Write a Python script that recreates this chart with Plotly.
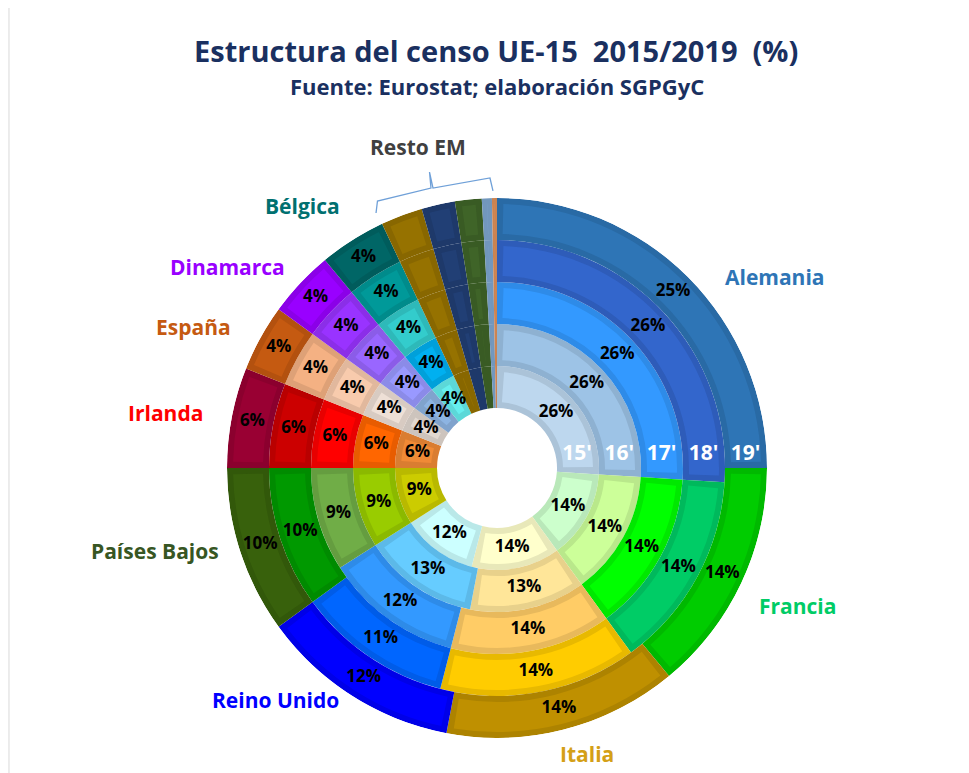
import math
import plotly.graph_objects as go

# ---------------- DATA ----------------
ring_labels = ["15'", "16'", "17'", "18'", "19'"]
countries = ["Alemania", "Francia", "Italia", "Reino Unido", "Países Bajos",
             "Irlanda", "España", "Dinamarca", "Bélgica"]
v15 = [26, 14, 14, 12, 9, 6, 4, 4, 4]
v16 = [26, 14, 13, 13, 9, 6, 4, 4, 4]
v17 = [26, 14, 14, 12, 9, 6, 4, 4, 4]
v18 = [26, 14, 14, 11, 10, 6, 4, 4, 4]
v19 = [25, 14, 14, 12, 10, 6, 4, 4, 4]
resto_members = ["Resto EM a", "Resto EM b", "Resto EM c", "Resto EM d", "Resto EM e"]
resto_vals = [2.5, 2.0, 1.6, 0.6, 0.3]
ring_values = [v15, v16, v17, v18, v19]

# ---------------- STYLE ----------------
ring_colors = [
    # 15'
    ["#BDD7EE", "#CCFFCC", "#FFFFCC", "#CCFFFF", "#CCCC00", "#F08A36", "#E2D8D0", "#8DB4E2", "#66EEEE"],
    # 16'
    ["#9DC3E6", "#CCFF99", "#FFE699", "#66CCFF", "#99CC00", "#FF6600", "#EEE0D6", "#9999FF", "#00B0F0"],
    # 17'
    ["#3399FF", "#00FF00", "#FFCC66", "#3399FF", "#70AD47", "#FF0000", "#F8CBAD", "#9966FF", "#33CCCC"],
    # 18'
    ["#3366CC", "#00CC66", "#FFCC00", "#0066FF", "#009900", "#CC0000", "#F4B183", "#9933FF", "#009999"],
    # 19'
    ["#2E75B6", "#00CC00", "#BF9000", "#0000FF", "#38610C", "#990033", "#C55A11", "#9900FF", "#006666"],
]
resto_colors = ["#967200", "#213F75", "#3F6428", "#7EA6D0", "#E0915A"]
name_colors = ["#2E75B6", "#00CC66", "#D4A017", "#0000FF", "#375623",
               "#FF0000", "#C55A11", "#9900FF", "#007070"]
FONT = "Open Sans"
W, H = 969, 773
OFF = 8                    # browser body margin
CX, CY = 497 - OFF, 468 - OFF   # pixel centre within the figure
R_OUT, R_HOLE = 270, 60
RING = (R_OUT - R_HOLE) / 5
HOLE_U = R_HOLE / RING     # hole in radial units
INSET = 6                  # bevel width px


def darker(hexc, f=0.91):
    h = hexc.lstrip("#")
    r, g, b = (int(h[i:i + 2], 16) for i in (0, 2, 4))
    return "#%02X%02X%02X" % (int(r * f), int(g * f), int(b * f))


fig = go.Figure()

for i, vals in enumerate(ring_values):
    allv = list(vals) + resto_vals
    cols = ring_colors[i] + resto_colors
    thetas, widths, inner_w = [], [], []
    start = 0.0
    r_mid = R_HOLE + RING * (i + 0.5)
    inset_deg = math.degrees(INSET / r_mid)
    for v in allv:
        thetas.append((start + v / 2) * 3.6)
        widths.append(v * 3.6)
        inner_w.append(max(v * 3.6 - 2 * inset_deg, 0.05))
        start += v
    fig.add_trace(go.Barpolar(
        theta=thetas, width=widths, r=[1] * len(allv), base=HOLE_U + i,
        marker=dict(color=[darker(c) for c in cols], line=dict(width=0)),
        hoverinfo="skip", showlegend=False))
    d = INSET / RING
    fig.add_trace(go.Barpolar(
        theta=thetas, width=inner_w, r=[1 - 2 * d] * len(allv), base=HOLE_U + i + d,
        marker=dict(color=cols, line=dict(width=0)),
        hoverinfo="skip", showlegend=False))
    # percentage labels
    fig.add_trace(go.Scatterpolar(
        theta=thetas[:len(vals)], r=[HOLE_U + i + 0.5] * len(vals), mode="text",
        text=["%d%%" % v for v in vals],
        textfont=dict(family=FONT, size=17, color="black", weight="bold"),
        hoverinfo="skip", showlegend=False))

# ring year labels (15' ... 19')
yr_r, yr_t = [], []
for i in range(5):
    r_px = R_HOLE + RING * (i + 0.5)
    yr_r.append(HOLE_U + i + 0.5)
    yr_t.append(90 - math.degrees(math.asin(13 / r_px)))
fig.add_trace(go.Scatterpolar(
    theta=yr_t, r=yr_r, mode="text", text=ring_labels,
    textfont=dict(family=FONT, size=21, color="white", weight="bold"),
    hoverinfo="skip", showlegend=False))

fig.update_layout(
    width=W, height=H,
    margin=dict(l=0, r=0, t=0, b=0),
    paper_bgcolor="white",
    polar=dict(
        domain=dict(x=[(CX - R_OUT) / W, (CX + R_OUT) / W],
                    y=[(H - CY - R_OUT) / H, (H - CY + R_OUT) / H]),
        bgcolor="white", bargap=0, hole=0,
        radialaxis=dict(visible=False, range=[0, HOLE_U + 5], showgrid=False),
        angularaxis=dict(visible=False, rotation=90, direction="clockwise",
                         showgrid=False, thetaunit="degrees"),
    ),
)


def px(x, y):
    return (x - OFF) / W, 1 - (y - OFF) / H


anns = [
    ("<b>Estructura del censo UE-15  2015/2019  (%)</b>", 496, 50, 29, "#1A3060"),
    ("<b>Fuente: Eurostat; elaboración SGPGyC</b>", 497, 86, 22, "#1A3060"),
]
name_pos = [(775, 277), (797, 606), (587, 754), (275, 700), (155, 551),
            (165, 413), (193, 327), (227, 267), (302, 206)]
for name, (x, y), c in zip(countries, name_pos, name_colors):
    anns.append(("<b>%s</b>" % name, x, y, 21, c))
anns.append(("<b>Resto EM</b>", 418, 147, 21, "#404040"))

annotations = []
for t, x, y, s, c in anns:
    ax, ay = px(x, y)
    annotations.append(dict(text=t, x=ax, y=ay, xref="paper", yref="paper",
                            xanchor="center", yanchor="middle", showarrow=False,
                            font=dict(family=FONT, size=s, color=c)))
fig.update_layout(annotations=annotations)

# curly bracket over "Resto EM"
pts = [(376, 213), (377.5, 201), (431, 188), (429.5, 172), (433, 188), (490, 178), (493, 191)]
path = "M " + " L ".join("%.4f,%.4f" % px(x, y) for x, y in pts)
fig.add_shape(type="path", path=path, xref="paper", yref="paper",
              line=dict(color="#6FA0D8", width=1.3))
# left chart border
fig.add_shape(type="line", x0=0.001, x1=0.001, y0=0, y1=1, xref="paper", yref="paper",
              line=dict(color="#D9D9D9", width=1))

fig.write_html("out.html")
